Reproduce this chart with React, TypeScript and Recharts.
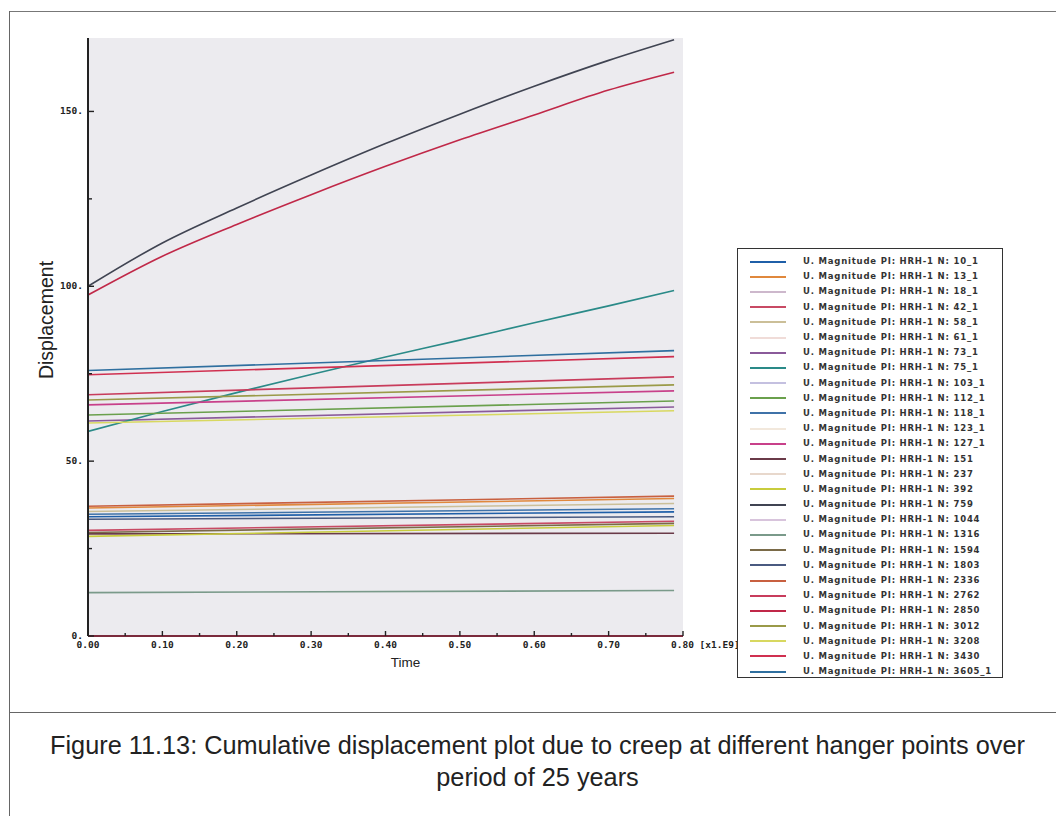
import React from 'react';
import { LineChart, Line, XAxis, YAxis, CartesianGrid, Legend } from 'recharts';

// Node labels (legend order)
const NODE_LABELS = [
  '10_1', '13_1', '18_1', '42_1', '58_1', '61_1', '73_1', '75_1', '103_1', '112_1',
  '118_1', '123_1', '127_1', '151', '237', '392', '759', '1044', '1316', '1594',
  '1803', '2336', '2762', '2850', '3012', '3208', '3430', '3605_1',
];

const SERIES_COLORS = [
  '#1f5fa8', '#e0883c', '#cdb8cc', '#c84a64', '#cbbf98', '#f0dcd8', '#8a5a9a', '#2a8a88', '#c4c0e0', '#6aa04c',
  '#3f72a8', '#f2e8dc', '#c8408a', '#6a3a48', '#e8d8cc', '#c8cc3c', '#404452', '#d8c4dc', '#7a9a8a', '#7a6a48',
  '#4a5a80', '#c86040', '#c83c5c', '#c02848', '#9a9a48', '#d8d860', '#d03050', '#2f6f9f',
];

// displacement at t = 0 and at t = 0.788 (x1e9 s, 25 years) for straight series
const START_VALUES = [
  34.1, 36.6, 0, 30.2, 35.6, 0, 61.5, 58.5, 0, 63.2,
  34.8, 0, 66.1, 29.2, 0, 28.5, 100, 0, 12.4, 29.6,
  33.4, 37.1, 69.0, 97.5, 67.5, 60.9, 74.7, 75.9,
];
const END_VALUES = [
  35.5, 39.3, 0, 32.8, 37.9, 0, 65.5, 98.8, 0, 67.2,
  36.4, 0, 70.1, 29.4, 0, 31.6, 170.5, 0, 13.0, 32.2,
  34.1, 40.0, 74.1, 161.2, 71.8, 64.4, 79.9, 81.6,
];

// time samples (x1.E9)
const TIME_POINTS = [0, 0.1, 0.2, 0.3, 0.4, 0.5, 0.6, 0.7, 0.788];

// series read at every time sample (curved)
const CURVE_759 = [100, 112.4, 122.4, 131.8, 140.8, 149.2, 157.2, 164.6, 170.5];
const CURVE_2850 = [97.5, 108.6, 117.7, 126.2, 134.3, 141.9, 149.0, 156.1, 161.2];
const CURVE_75_1 = [58.5, 64.2, 69.6, 74.8, 79.8, 84.6, 89.6, 94.4, 98.8];

const X_TICKS = [0, 0.05, 0.1, 0.15, 0.2, 0.25, 0.3, 0.35, 0.4, 0.45, 0.5, 0.55, 0.6, 0.65, 0.7, 0.75, 0.8];
const Y_TICKS = [0, 25, 50, 75, 100, 125, 150];

const CURVES: Record<string, number[]> = { '759': CURVE_759, '2850': CURVE_2850, '75_1': CURVE_75_1 };

const data = TIME_POINTS.map((t, i) => {
  const row: Record<string, number | null> = { time: t };
  NODE_LABELS.forEach((n, k) => {
    const c = CURVES[n];
    if (c) row[n] = c[i];
    else if (i === 0) row[n] = START_VALUES[k];
    else if (i === TIME_POINTS.length - 1) row[n] = END_VALUES[k];
    else row[n] = null;
  });
  return row;
});

const tickFont = { fontFamily: '"DejaVu Sans Mono", monospace', fontWeight: 700, fontSize: 9.5, fill: '#222' };

const BottomTick = (props: any) => {
  const { x, y, payload } = props;
  const v = payload.value as number;
  const major = Math.round(v * 100) % 10 === 0;
  return (
    <g>
      <line x1={x} y1={y} x2={x} y2={y - (major ? 5 : 3)} stroke="#222" strokeWidth={1.4} />
      {major && (v >= 0.79 ? (
        <text x={x - 12} y={y + 12} textAnchor="start" style={tickFont as any}>0.80 [x1.E9]</text>
      ) : (
        <text x={x} y={y + 12} textAnchor="middle" style={tickFont as any}>{v.toFixed(2)}</text>
      ))}
    </g>
  );
};

const TopTick = (props: any) => {
  const { x, y, payload } = props;
  const v = payload.value as number;
  const major = Math.round(v * 100) % 10 === 0;
  return <line x1={x} y1={y} x2={x} y2={y + (major ? 5 : 3)} stroke="#222" strokeWidth={1.4} />;
};

const LeftTick = (props: any) => {
  const { x, y, payload } = props;
  const v = payload.value as number;
  const major = v % 50 === 0;
  return (
    <g>
      <line x1={x} y1={y} x2={x + (major ? 6 : 4)} y2={y} stroke="#222" strokeWidth={1.4} />
      {major && (
        <text x={x - 5} y={y + 3} textAnchor="end" style={tickFont as any}>{`${v}.`}</text>
      )}
    </g>
  );
};

const RightTick = (props: any) => {
  const { x, y, payload } = props;
  const v = payload.value as number;
  const major = v % 50 === 0;
  return <line x1={x} y1={y} x2={x - (major ? 6 : 4)} y2={y} stroke="#222" strokeWidth={1.4} />;
};

const DispLabel = (props: any) => {
  const vb = props.viewBox || { x: 28, y: 38, width: 60, height: 598 };
  const cx = vb.x + 18;
  const cy = vb.y + vb.height / 2 - 17;
  return (
    <text x={cx} y={cy} transform={`rotate(-90 ${cx} ${cy})`} textAnchor="middle" dominantBaseline="central"
      style={{ fontFamily: '"Liberation Sans", Arial, sans-serif', fontSize: 19.5, fill: '#222' }}>
      Displacement
    </text>
  );
};

const TimeLabel = (props: any) => {
  const vb = props.viewBox || { x: 88, y: 636, width: 595, height: 36 };
  return (
    <text x={vb.x + vb.width / 2 + 20} y={vb.y + 31} textAnchor="middle"
      style={{ fontFamily: '"Liberation Sans", Arial, sans-serif', fontSize: 13.5, fill: '#222' }}>
      Time
    </text>
  );
};

const renderLegend = (props: any) => {
  const payload = [...(props.payload || [])].sort(
    (a: any, b: any) => NODE_LABELS.indexOf(a.value) - NODE_LABELS.indexOf(b.value)
  );
  return (
    <div style={{ border: '1.5px solid #333', background: '#fff', width: 266, height: 430, boxSizing: 'border-box', paddingTop: 5 }}>
      {payload.map((e: any, i: number) => (
        <div key={i} style={{ display: 'flex', alignItems: 'center', height: 15.2 }}>
          <div style={{ marginLeft: 12, width: 36, height: 2, background: e.color }} />
          <div style={{
            marginLeft: 17, fontFamily: '"DejaVu Sans", sans-serif', fontWeight: 700, fontSize: 8.5,
            letterSpacing: 0.8, color: '#333', whiteSpace: 'nowrap', lineHeight: '15px',
          }}>{`U. Magnitude PI: HRH-1 N: ${e.value}`}</div>
        </div>
      ))}
    </div>
  );
};

export default function App() {
  return (
    <div style={{ position: 'fixed', left: 0, top: 0, width: 1056, height: 816, background: '#fff', overflow: 'hidden' }}>
      <div style={{ position: 'absolute', left: 9, top: 11, width: 1047, height: 0, borderTop: '1.5px solid #777' }} />
      <div style={{ position: 'absolute', left: 9, top: 11, width: 0, height: 805, borderLeft: '1.5px solid #666' }} />
      <div style={{ position: 'absolute', left: 9, top: 712, width: 1047, height: 0, borderTop: '1.5px solid #666' }} />
      <div style={{ position: 'absolute', left: 0, top: 0 }}>
        <LineChart width={1056} height={700} data={data} margin={{ top: 38, right: 373, bottom: 28, left: 28 }}>
          <CartesianGrid xAxisId="bottom" yAxisId="left" horizontal={false} vertical={false} fill="#ecebef" />
          <XAxis xAxisId="bottom" dataKey="time" type="number" domain={[0, 0.8]} ticks={X_TICKS} interval={0}
            allowDataOverflow height={36} tickSize={0} tickMargin={0} tickLine={false}
            axisLine={{ stroke: '#7a2a3c', strokeWidth: 2 }} tick={<BottomTick />} label={<TimeLabel />} />
          <XAxis xAxisId="top" orientation="top" dataKey="time" type="number" domain={[0, 0.8]} ticks={X_TICKS}
            interval={0} allowDataOverflow height={0} tickSize={0} tickMargin={0} tickLine={false}
            axisLine={{ stroke: '#222', strokeWidth: 2 }} tick={<TopTick />} />
          <YAxis yAxisId="left" type="number" domain={[0, 171]} ticks={Y_TICKS} interval={0} allowDataOverflow
            width={60} tickSize={0} tickMargin={0} tickLine={false}
            axisLine={{ stroke: '#222', strokeWidth: 2 }} tick={<LeftTick />} label={<DispLabel />} />
          <YAxis yAxisId="right" orientation="right" type="number" domain={[0, 171]} ticks={Y_TICKS} interval={0}
            allowDataOverflow width={0} tickSize={0} tickMargin={0} tickLine={false}
            axisLine={{ stroke: '#222', strokeWidth: 2 }} tick={<RightTick />} />
          {NODE_LABELS.map((n, k) => (
            <Line key={n} xAxisId="bottom" yAxisId="left" dataKey={n} name={n} stroke={SERIES_COLORS[k]}
              strokeWidth={1.6} dot={false} activeDot={false} connectNulls isAnimationActive={false} type="monotone" />
          ))}
          <Legend layout="vertical" align="center" verticalAlign="middle" content={renderLegend}
            wrapperStyle={{ position: 'absolute', left: 737, top: 248, width: 266, height: 430 }} />
        </LineChart>
      </div>
      <div style={{ position: 'absolute', left: 14, width: 1047, top: 729, textAlign: 'center', whiteSpace: 'nowrap',
        fontFamily: '"Liberation Sans", Arial, sans-serif', fontSize: 25.3, color: '#222', lineHeight: '32px' }}>
        <div>Figure 11.13: Cumulative displacement plot due to creep at different hanger points over</div>
        <div>period of 25 years</div>
      </div>
    </div>
  );
}
